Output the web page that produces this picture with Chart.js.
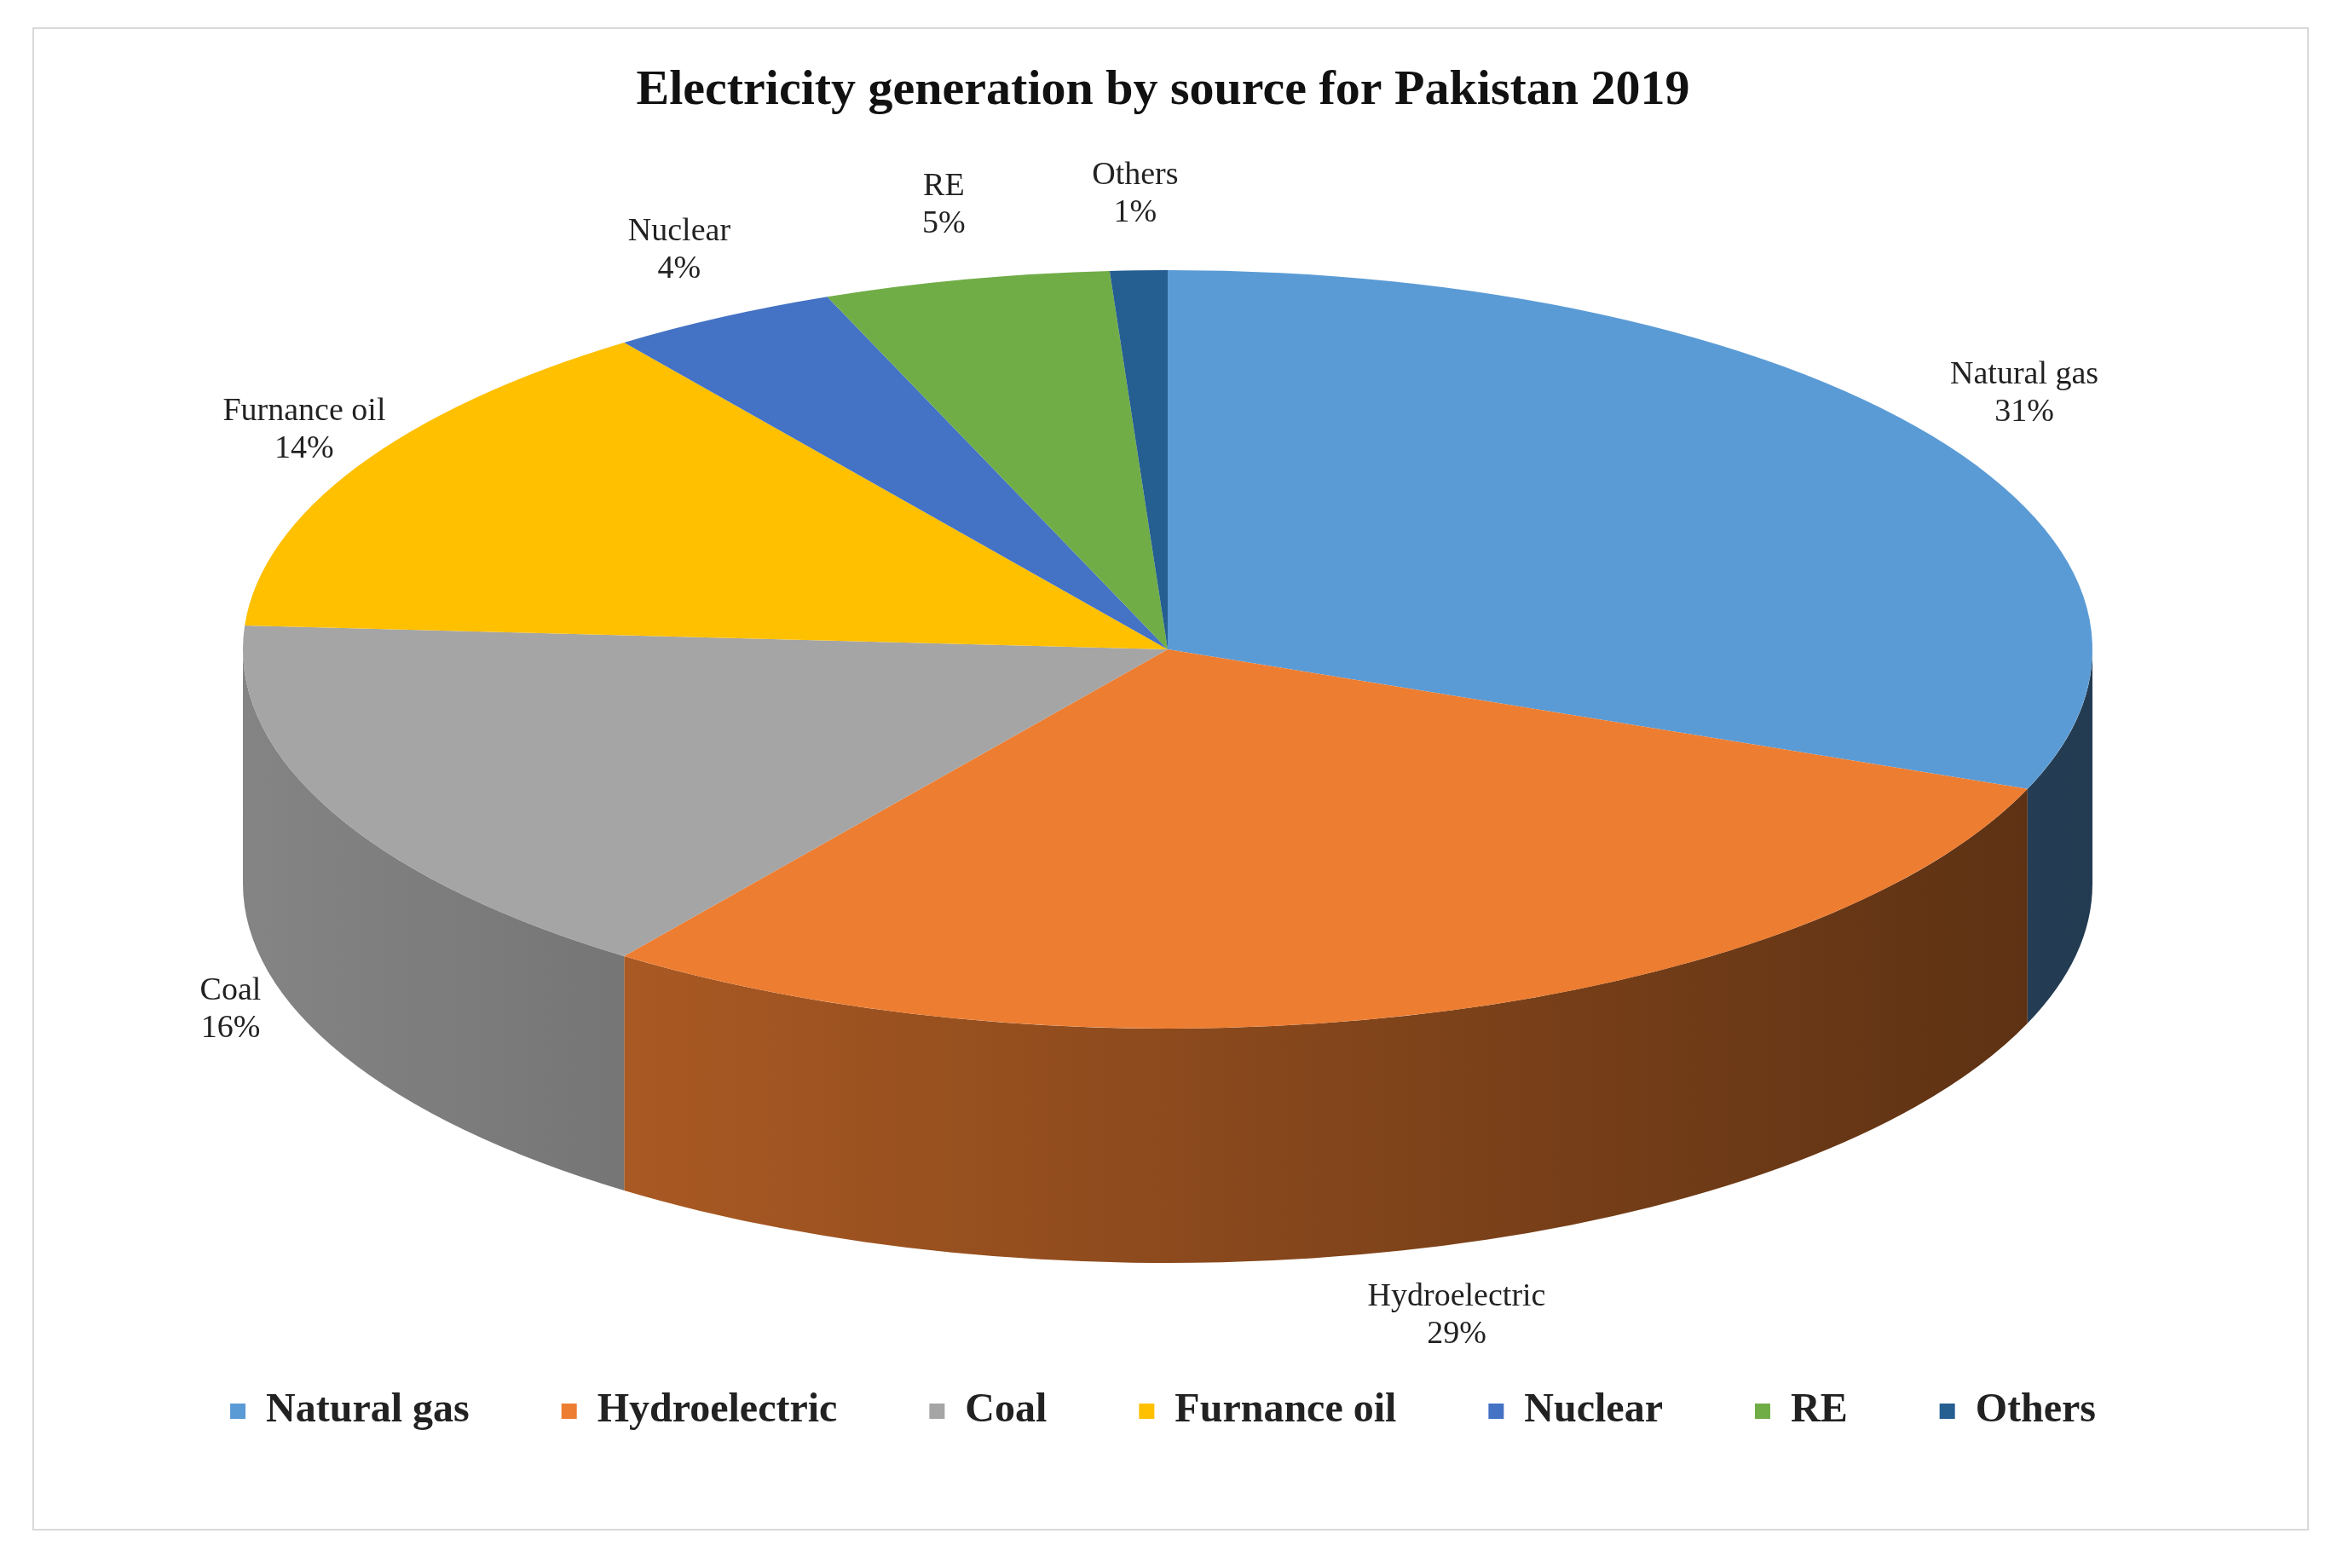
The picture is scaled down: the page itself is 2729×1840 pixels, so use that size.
<!DOCTYPE html>
<html>
<head>
<meta charset="utf-8">
<script src="https://cdn.jsdelivr.net/npm/chart.js@4/dist/chart.umd.min.js"></script>
<style>
  html, body { margin: 0; padding: 0; background: #fff; }
  #wrap { position: relative; width: 2729px; height: 1840px; }
  #frame { position: absolute; left: 38px; top: 32px; width: 2667px; height: 1760px; border: 2px solid #d9d9d9; pointer-events: none; }
</style>
</head>
<body>
<div id="wrap">
  <canvas id="pie" width="2729" height="1840"></canvas>
  <div id="frame"></div>
</div>
<script>
// data
const sources = ['Natural gas', 'Hydroelectric', 'Coal', 'Furnance oil', 'Nuclear', 'RE', 'Others'];
const shares = [31, 29, 16, 14, 4, 5, 1];
const colours = ['#5b9bd5', '#ed7d31', '#a5a5a5', '#ffc000', '#4472c4', '#70ad47', '#255e91'];

// where the tilted pie sits on the page
const PIE = { x: 1370, y: 762, rx: 1085, ry: 445, depth: 275 };

function shade(hex, f) {
    let out = '#';
    for (let i = 0; i < 3; i++) {
        let c = parseInt(hex.substring(1 + i * 2, 3 + i * 2), 16);
        out += Math.round(c * f).toString(16).padStart(2, '0');
    }
    return out;
}

// squash the flat pie into an ellipse and give it a front wall
const tiltPlugin = {
    id: 'tilt',
    beforeDatasetsDraw(chart) {
        const ctx = chart.ctx;
        const arcs = chart.getDatasetMeta(0).data;
        // front wall first
        arcs.forEach((arc, i) => {
            for (let k = -1; k <= 1; k++) {
                let s = Math.max(arc.startAngle + 2 * Math.PI * k, 0);
                let e = Math.min(arc.endAngle + 2 * Math.PI * k, Math.PI);
                if (e <= s) continue;
                const g = ctx.createLinearGradient(PIE.x - PIE.rx, 0, PIE.x + PIE.rx, 0);
                g.addColorStop(0, shade(colours[i], 0.8));
                g.addColorStop(1, shade(colours[i], 0.38));
                ctx.beginPath();
                ctx.ellipse(PIE.x, PIE.y, PIE.rx, PIE.ry, 0, s, e);
                ctx.lineTo(PIE.x + PIE.rx * Math.cos(e), PIE.y + PIE.depth + PIE.ry * Math.sin(e));
                ctx.ellipse(PIE.x, PIE.y + PIE.depth, PIE.rx, PIE.ry, 0, e, s, true);
                ctx.closePath();
                ctx.fillStyle = g;
                ctx.fill();
            }
        });
        const a = arcs[0];
        const R = a.outerRadius;
        ctx.save();
        ctx.translate(PIE.x, PIE.y);
        ctx.scale(PIE.rx / R, PIE.ry / R);
        ctx.translate(-a.x, -a.y);
    },
    afterDatasetsDraw(chart) {
        chart.ctx.restore();
        // slice labels
        const ctx = chart.ctx;
        ctx.save();
        ctx.font = '38px "Liberation Serif", "Times New Roman", serif';
        ctx.fillStyle = '#222';
        ctx.textAlign = 'center';
        ctx.textBaseline = 'middle';
        chart.getDatasetMeta(0).data.forEach((arc, i) => {
            const m = (arc.startAngle + arc.endAngle) / 2;
            const c = Math.cos(m), s = Math.sin(m);
            let x = PIE.x + PIE.rx * 1.12 * c;
            let y = PIE.y + PIE.ry * 1.2 * s;
            if (s > 0) y += PIE.depth * (0.5 + s * 0.5);
            if (c < 0 && s < 0) x += 100 * (1 + s);
            ctx.fillText(sources[i], x, y - 22);
            ctx.fillText(shares[i] + '%', x, y + 22);
        });
        ctx.restore();
    }
};

new Chart(document.getElementById('pie'), {
    type: 'pie',
    data: {
        labels: sources,
        datasets: [{ data: shares, backgroundColor: colours, borderWidth: 0 }]
    },
    options: {
        responsive: false,
        animation: false,
        events: [],
        layout: { padding: { left: 60, right: 60, bottom: 150 } },
        plugins: {
            title: {
                display: true,
                text: 'Electricity generation by source for Pakistan 2019',
                color: '#111',
                font: { family: '"Liberation Serif", "Times New Roman", serif', size: 58, weight: 'bold' },
                padding: { top: 72, bottom: 20 }
            },
            legend: {
                position: 'bottom',
                labels: {
                    color: '#222',
                    boxWidth: 18,
                    boxHeight: 18,
                    padding: 108,
                    font: { family: '"Liberation Serif", "Times New Roman", serif', size: 48, weight: 'bold' }
                }
            },
            tooltip: { enabled: false }
        }
    },
    plugins: [tiltPlugin]
});
</script>
</body>
</html>
